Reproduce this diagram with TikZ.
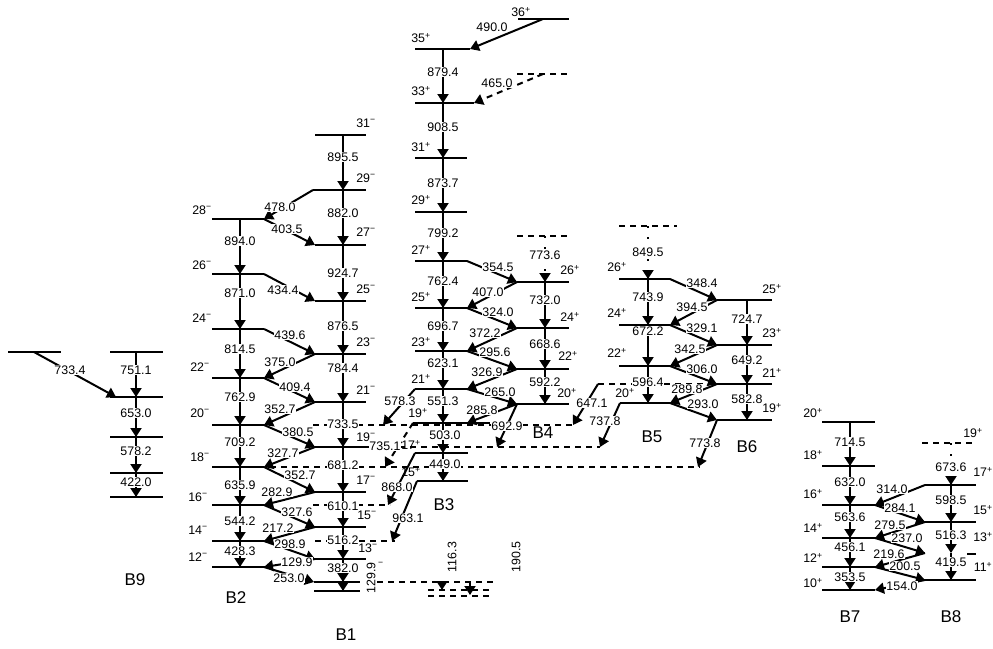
\documentclass[tikz,border=0pt]{standalone}
\usepackage{fontspec}
\setmainfont{Liberation Sans}
\usetikzlibrary{arrows.meta}
\pgfdeclarelayer{fg}
\pgfsetlayers{main,fg}
\newcommand\labf{\fontsize{12.4}{14}\selectfont}
\newcommand\bandf{\fontsize{17}{20}\selectfont}
\newcommand\mi{\textsuperscript{−}}
\newcommand\pl{\textsuperscript{+}}
% level: name, x-left, x-centre, x-right, y
\newcommand\lv[5]{\coordinate (#1L) at (#2,#5);\coordinate (#1) at (#3,#5);\coordinate (#1R) at (#4,#5);\draw[level] (#1L) -- (#1R);}
% transition: [style] from, to, label x, label y, text
\newcommand\tn[6][tr]{\draw[#1] (#2) -- (#3);\begin{pgfonlayer}{fg}\node[lab] (t#2-#3) at (#4,#5) {#6};\end{pgfonlayer}}
\newcommand\spinlab[4]{\begin{pgfonlayer}{fg}\node[spin] (#1) at (#2,#3) {#4};\end{pgfonlayer}}
\begin{document}
\begin{tikzpicture}[x=1pt,y=-1pt,
  level/.style={line width=2pt},
  dlevel/.style={line width=2pt,dash pattern=on 6pt off 5pt},
  tr/.style={line width=2pt,-{Triangle[width=11pt,length=9pt]}},
  dtr/.style={tr,dash pattern=on 6pt off 5pt},
  ptr/.style={tr,dash pattern=on 2pt off 9pt},
  lab/.style={fill=white,inner sep=0.8pt,font=\labf},
  spin/.style={inner sep=0pt,font=\labf},
  band/.style={inner sep=0pt,font=\bandf}]
\useasboundingbox (0,0) rectangle (993,648);

% ---------- dashed horizontal lines ----------
\coordinate (x425) at (573,425);
\coordinate (x425b) at (383,425);
\coordinate (x447) at (600,447);
\coordinate (x447b) at (497,447);
\coordinate (x467) at (698,467);
\coordinate (x467b) at (385,467);
\coordinate (x505) at (388,505);
\coordinate (x541) at (392,541);
\coordinate (x384) at (598,384);
\coordinate (x74) at (543,74);
\coordinate (y582a) at (442,582);
\coordinate (y590a) at (442,590);
\coordinate (y582b) at (470,582);
\coordinate (y595b) at (470,595);
\draw[dlevel] (313,425) -- (x425);
\draw[dlevel] (366,447) -- (x447);
\draw[dlevel] (270,467) -- (700,467);
\draw[dlevel] (313,505) -- (390,505);
\draw[dlevel] (315,541) -- (395,541);
\draw[dlevel] (x384) -- (717,384);
\draw[dlevel] (517,74) -- (567,74);
\draw[dlevel] (377,582) -- (495,582);
\draw[dlevel] (428,590) -- (490,590);
\draw[dlevel] (428,596) -- (490,596);
\draw[dlevel] (517,236) -- (567,236);
\draw[dlevel] (619,226) -- (677,226);
\draw[dlevel] (922,443) -- (972,443);

% ---------- B9 ----------
\lv{n1}{110}{136}{163}{352}
\lv{n2}{110}{136}{163}{397}
\lv{n3}{110}{136}{163}{437}
\lv{n4}{110}{136}{163}{473}
\lv{n5}{110}{136}{163}{497}
\lv{n0}{8}{34}{61}{352}
\coordinate (n2in) at (116,397);
\tn{n1}{n2}{136}{370}{751.1}
\tn{n2}{n3}{136}{413}{653.0}
\tn{n3}{n4}{136}{451}{578.2}
\tn{n4}{n5}{136}{482}{422.0}
\tn{n0}{n2in}{70}{370}{733.4}

% ---------- B2 ----------
\lv{a28}{212}{240}{264}{219}
\lv{a26}{212}{240}{264}{274}
\lv{a24}{212}{240}{264}{329}
\lv{a22}{212}{240}{264}{378}
\lv{a20}{212}{240}{264}{425}
\lv{a18}{212}{240}{264}{467}
\lv{a16}{212}{240}{264}{505}
\lv{a14}{212}{240}{264}{541}
\lv{a12}{212}{240}{264}{567}
\tn{a28}{a26}{240}{241}{894.0}
\tn{a26}{a24}{240}{293}{871.0}
\tn{a24}{a22}{240}{349}{814.5}
\tn{a22}{a20}{240}{397}{762.9}
\tn{a20}{a18}{240}{442}{709.2}
\tn{a18}{a16}{240}{485}{635.9}
\tn{a16}{a14}{240}{521}{544.2}
\tn{a14}{a12}{240}{551}{428.3}
\spinlab{sa28}{202}{210}{28\mi}
\spinlab{sa26}{202}{265}{26\mi}
\spinlab{sa24}{202}{318}{24\mi}
\spinlab{sa22}{200}{367}{22\mi}
\spinlab{sa20}{200}{413}{20\mi}
\spinlab{sa18}{200}{457}{18\mi}
\spinlab{sa16}{198}{497}{16\mi}
\spinlab{sa14}{198}{530}{14\mi}
\spinlab{sa12}{198}{557}{12\mi}

% ---------- B1 ----------
\lv{b31}{315}{343}{366}{135}
\lv{b29}{313}{343}{366}{190}
\lv{b27}{315}{343}{366}{245}
\lv{b25}{315}{343}{366}{301}
\lv{b23}{315}{343}{366}{354}
\lv{b21}{315}{343}{366}{402}
\lv{b19}{315}{343}{366}{447}
\lv{b17}{315}{343}{366}{492}
\lv{b15}{315}{343}{366}{527}
\lv{b13}{315}{343}{366}{559}
\lv{b11}{314}{343}{360}{582}
\lv{b10}{314}{343}{360}{591}
\tn{b31}{b29}{343}{157}{895.5}
\tn{b29}{b27}{343}{213}{882.0}
\tn{b27}{b25}{343}{273}{924.7}
\tn{b25}{b23}{343}{326}{876.5}
\tn{b23}{b21}{343}{368}{784.4}
\tn{b21}{b19}{343}{424}{733.5}
\tn{b19}{b17}{343}{465}{681.2}
\tn{b17}{b15}{343}{506}{610.1}
\tn{b15}{b13}{343}{540}{516.2}
\tn{b13}{b11}{343}{568}{382.0}
\draw[tr] (b11) -- (b10);
\spinlab{sb31}{366}{123}{31\mi}
\spinlab{sb29}{366}{178}{29\mi}
\spinlab{sb27}{366}{232}{27\mi}
\spinlab{sb25}{366}{289}{25\mi}
\spinlab{sb23}{366}{342}{23\mi}
\spinlab{sb21}{366}{390}{21\mi}
\spinlab{sb19}{366}{437}{19\mi}
\spinlab{sb17}{366}{480}{17\mi}
\spinlab{sb15}{367}{515}{15\mi}
\spinlab{sb13}{368}{548}{13\mi}
\begin{pgfonlayer}{fg}
\node[spin] (sbx) at (381,566) {\mi};
\node[lab,rotate=90] (r1299) at (371,578) {129.9};
\node[lab,rotate=90] (r1163) at (452,557) {116.3};
\node[lab,rotate=90] (r1905) at (516,557) {190.5};
\end{pgfonlayer}
\draw[tr] (y582a) -- (y590a);
\draw[tr] (y582b) -- (y595b);

% B2 <-> B1
\tn{b29L}{a28R}{280}{207}{478.0}
\tn{a28R}{b27L}{287}{229}{403.5}
\tn{a26R}{b25L}{283}{290}{434.4}
\tn{a24R}{b23L}{290}{335}{439.6}
\tn{b23L}{a22R}{280}{362}{375.0}
\tn{a22R}{b21L}{295}{387}{409.4}
\tn{b21L}{a20R}{280}{409}{352.7}
\tn{a20R}{b19L}{298}{432}{380.5}
\tn{b19L}{a18R}{283}{453}{327.7}
\tn{a18R}{b17L}{300}{475}{352.7}
\tn{b17L}{a16R}{277}{492}{282.9}
\tn{a16R}{b15L}{297}{512}{327.6}
\tn{b15L}{a14R}{278}{528}{217.2}
\tn{a14R}{b13L}{290}{544}{298.9}
\tn{b13L}{a12R}{297}{562}{129.9}
\tn{a12R}{b11L}{289}{578}{253.0}

% ---------- B3 ----------
\lv{c19}{413}{443}{490}{423}
\lv{c17}{415}{443}{468}{453}
\lv{c15}{417}{443}{468}{481}
\coordinate (c19m) at (467,423);
\tn{c19}{c17}{445}{435}{503.0}
\tn{c17}{c15}{445}{464}{449.0}
\spinlab{sc19}{418}{413}{19\pl}
\spinlab{sc17}{411}{445}{17\pl}
\spinlab{sc15}{411}{472}{15\pl}
\tn[dtr]{c19L}{x467b}{385}{446}{735.1}
\tn{c17L}{x505}{397}{487}{868.0}
\tn{c15L}{x541}{408}{518}{963.1}

% ---------- B4 ----------
\lv{d36}{518}{543}{569}{19}
\lv{d35}{415}{443}{470}{49}
\lv{d33}{415}{443}{474}{103}
\lv{d31}{415}{443}{467}{158}
\lv{d29}{415}{443}{467}{212}
\lv{d27}{415}{443}{467}{261}
\lv{d25}{415}{443}{467}{308}
\lv{d23}{415}{443}{467}{351}
\lv{d21}{415}{443}{467}{389}
\tn{d35}{d33}{443}{72}{879.4}
\tn{d33}{d31}{443}{127}{908.5}
\tn{d31}{d29}{443}{183}{873.7}
\tn{d29}{d27}{443}{233}{799.2}
\tn{d27}{d25}{443}{281}{762.4}
\tn{d25}{d23}{443}{326}{696.7}
\tn{d23}{d21}{443}{363}{623.1}
\tn{d21}{c19}{443}{401}{551.3}
\tn{d36}{d35R}{492}{27}{490.0}
\tn[dtr]{x74}{d33R}{497}{83}{465.0}
\spinlab{sd36}{521}{12}{36\pl}
\spinlab{sd35}{421}{38}{35\pl}
\spinlab{sd33}{421}{91}{33\pl}
\spinlab{sd31}{421}{147}{31\pl}
\spinlab{sd29}{421}{200}{29\pl}
\spinlab{sd27}{421}{250}{27\pl}
\spinlab{sd25}{421}{297}{25\pl}
\spinlab{sd23}{421}{342}{23\pl}
\spinlab{sd21}{421}{379}{21\pl}
\tn{d21L}{x425b}{400}{401}{578.3}

\coordinate (e28) at (545,236);
\lv{e26}{517}{545}{569}{282}
\lv{e24}{517}{545}{569}{328}
\lv{e22}{517}{545}{569}{369}
\lv{e20}{517}{545}{569}{404}
\tn[ptr]{e28}{e26}{545}{255}{773.6}
\tn{e26}{e24}{545}{300}{732.0}
\tn{e24}{e22}{545}{344}{668.6}
\tn{e22}{e20}{545}{382}{592.2}
\spinlab{se26}{570}{270}{26\pl}
\spinlab{se24}{570}{317}{24\pl}
\spinlab{se22}{568}{356}{22\pl}
\spinlab{se20}{567}{393}{20\pl}
\tn{d27R}{e26L}{498}{267}{354.5}
\tn{e26L}{d25R}{488}{292}{407.0}
\tn{d25R}{e24L}{498}{312}{324.0}
\tn{e24L}{d23R}{485}{333}{372.2}
\tn{d23R}{e22L}{495}{352}{295.6}
\tn{e22L}{d21R}{487}{372}{326.9}
\tn{d21R}{e20L}{500}{392}{265.0}
\tn{e20L}{c19m}{482}{410}{285.8}
\tn{e20L}{x447b}{507}{426}{692.9}

% ---------- B5 ----------
\coordinate (f28) at (648,226);
\lv{f26}{619}{648}{670}{279}
\lv{f24}{619}{648}{670}{325}
\lv{f22}{619}{648}{670}{366}
\lv{f20}{620}{648}{670}{403}
\tn[ptr]{f28}{f26}{648}{252}{849.5}
\tn{f26}{f24}{648}{297}{743.9}
\tn{f24}{f22}{648}{331}{672.2}
\tn{f22}{f20}{648}{382}{596.4}
\spinlab{sf26}{617}{267}{26\pl}
\spinlab{sf24}{617}{313}{24\pl}
\spinlab{sf22}{617}{353}{22\pl}
\spinlab{sf20}{625}{393}{20\pl}
\tn{x384}{x425}{592}{403}{647.1}
\tn{f20L}{x447}{605}{421}{737.8}

% ---------- B6 ----------
\lv{g25}{717}{747}{772}{300}
\lv{g23}{717}{747}{772}{345}
\lv{g21}{717}{747}{772}{384}
\lv{g19}{717}{747}{772}{420}
\tn{g25}{g23}{747}{319}{724.7}
\tn{g23}{g21}{747}{360}{649.2}
\tn{g21}{g19}{747}{399}{582.8}
\spinlab{sg25}{772}{289}{25\pl}
\spinlab{sg23}{772}{333}{23\pl}
\spinlab{sg21}{772}{373}{21\pl}
\spinlab{sg19}{772}{408}{19\pl}
\tn{f26R}{g25L}{702}{283}{348.4}
\tn{g25L}{f24R}{692}{307}{394.5}
\tn{f24R}{g23L}{702}{328}{329.1}
\tn{g23L}{f22R}{690}{349}{342.5}
\tn{f22R}{g21L}{702}{369}{306.0}
\tn{g21L}{f20R}{687}{389}{289.8}
\tn{f20R}{g19L}{703}{404}{293.0}
\tn{g19L}{x467}{705}{443}{773.8}

% ---------- B7 ----------
\lv{h20}{822}{850}{875}{422}
\lv{h18}{822}{850}{875}{466}
\lv{h16}{822}{850}{875}{505}
\lv{h14}{822}{850}{875}{538}
\lv{h12}{822}{850}{875}{567}
\lv{h10}{822}{850}{875}{590}
\tn{h20}{h18}{850}{442}{714.5}
\tn{h18}{h16}{850}{482}{632.0}
\tn{h16}{h14}{850}{517}{563.6}
\tn{h14}{h12}{850}{547}{456.1}
\tn{h12}{h10}{850}{577}{353.5}
\spinlab{sh20}{813}{413}{20\pl}
\spinlab{sh18}{813}{455}{18\pl}
\spinlab{sh16}{813}{494}{16\pl}
\spinlab{sh14}{813}{528}{14\pl}
\spinlab{sh12}{813}{558}{12\pl}
\spinlab{sh10}{813}{583}{10\pl}

% ---------- B8 ----------
\coordinate (i19) at (951,443);
\lv{i17}{925}{951}{976}{485}
\lv{i15}{925}{951}{976}{522}
\lv{i11}{925}{951}{976}{580}
\coordinate (i13L) at (925,553);
\coordinate (i13) at (951,553);
\draw[level] (967,554) -- (976,554);
\tn[ptr]{i19}{i17}{951}{467}{673.6}
\tn{i17}{i15}{951}{500}{598.5}
\tn{i15}{i13}{951}{535}{516.3}
\tn{i13}{i11}{951}{562}{419.5}
\spinlab{si19}{973}{433}{19\pl}
\spinlab{si17}{983}{472}{17\pl}
\spinlab{si15}{983}{510}{15\pl}
\spinlab{si13}{983}{537}{13\pl}
\spinlab{si11}{983}{567}{11\pl}
\tn{i17L}{h16R}{892}{489}{314.0}
\tn{h16R}{i15L}{900}{508}{284.1}
\tn{i15L}{h14R}{890}{525}{279.5}
\tn{h14R}{i13L}{907}{538}{237.0}
\tn{i13L}{h12R}{889}{554}{219.6}
\tn{h12R}{i11L}{905}{566}{200.5}
\tn{i11L}{h10R}{902}{586}{154.0}

% ---------- band names ----------
\node[band] (B9) at (135,580) {B9};
\node[band] (B2) at (236,598) {B2};
\node[band] (B1) at (346,635) {B1};
\node[band] (B3) at (444,505) {B3};
\node[band] (B4) at (543,433) {B4};
\node[band] (B5) at (652,437) {B5};
\node[band] (B6) at (747,447) {B6};
\node[band] (B7) at (850,617) {B7};
\node[band] (B8) at (951,617) {B8};
\end{tikzpicture}
\end{document}
